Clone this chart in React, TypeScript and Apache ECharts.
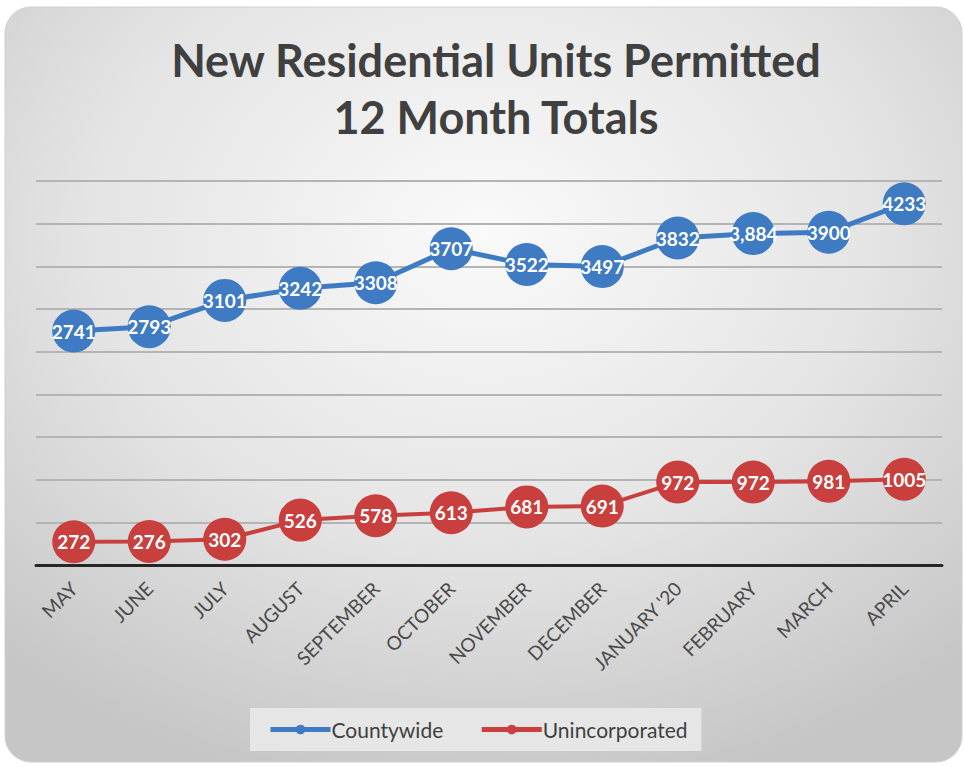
import React, { useEffect, useRef } from "react";
import * as echarts from "echarts";

const months = ["MAY", "JUNE", "JULY", "AUGUST", "SEPTEMBER", "OCTOBER", "NOVEMBER", "DECEMBER", "JANUARY '20", "FEBRUARY", "MARCH", "APRIL"];
const countywide = [2741, 2793, 3101, 3242, 3308, 3707, 3522, 3497, 3832, 3884, 3900, 4233];
const unincorporated = [272, 276, 302, 526, 578, 613, 681, 691, 972, 972, 981, 1005];
const commaLabelMonths = ["FEBRUARY"];
const titleLines = ["New Residential Units Permitted", "12 Month Totals"];

const BLUE = "#3F7BC3";
const RED = "#C83F3D";

export default function App() {
  const ref = useRef<HTMLDivElement>(null);
  useEffect(() => {
    if (!ref.current) return;
    const chart = echarts.init(ref.current, undefined, { renderer: "svg" });
    const labelFmt = (withComma: string[]) => (p: any) =>
      withComma.includes(p.name) ? Number(p.value).toLocaleString("en-US") : String(p.value);
    chart.setOption({
      animation: false,
      backgroundColor: "#ffffff",
      graphic: [
        {
          type: "rect",
          z: -10,
          silent: true,
          shape: { x: 5, y: 7, width: 957, height: 755, r: 26 },
          style: {
            fill: {
              type: "radial",
              x: 0.5,
              y: 0.3,
              r: 0.75,
              colorStops: [
                { offset: 0, color: "#fafafa" },
                { offset: 0.55, color: "#e4e4e4" },
                { offset: 1, color: "#c6c6c6" },
              ],
            },
            stroke: "#d0d0d0",
            lineWidth: 1,
          },
        },
      ],
      title: {
        text: titleLines.join("\n"),
        left: 491,
        textAlign: "center",
        top: 26,
        textStyle: {
          fontFamily: "Lato",
          fontWeight: "bold",
          fontSize: 45,
          lineHeight: 57,
          color: "#404040",
        },
      },
      legend: {
        left: 250,
        top: 708,
        backgroundColor: "#e6e6e6",
        padding: [11, 14, 11, 18],
        itemGap: 36,
        itemWidth: 60,
        itemHeight: 12,
        lineStyle: { width: 5 },
        textStyle: { fontFamily: "Lato", fontSize: 21, color: "#404040", padding: [0, 0, 0, -4] },
        data: ["Countywide", "Unincorporated"],
      },
      grid: { left: 36, right: 22, top: 181, bottom: 202 },
      xAxis: {
        type: "category",
        data: months,
        boundaryGap: true,
        axisLine: { lineStyle: { color: "#262626", width: 3 } },
        axisTick: { show: false },
        axisLabel: {
          rotate: 45,
          margin: 20,
          interval: 0,
          fontFamily: "Lato",
          fontSize: 19,
          color: "#4a4a4a",
        },
      },
      yAxis: {
        type: "value",
        min: 0,
        max: 4500,
        interval: 500,
        axisLabel: { show: false },
        axisLine: { show: false },
        axisTick: { show: false },
        splitLine: { lineStyle: { color: "#b4b4b4", width: 2 } },
      },
      series: [
        {
          name: "Countywide",
          type: "line",
          data: countywide,
          symbol: "circle",
          symbolSize: 43,
          itemStyle: { color: BLUE },
          lineStyle: { color: BLUE, width: 5 },
          label: {
            show: true,
            position: "inside",
            formatter: labelFmt(commaLabelMonths),
            color: "#ffffff",
            fontFamily: "Lato",
            fontWeight: "bold",
            fontSize: 19,
          },
        },
        {
          name: "Unincorporated",
          type: "line",
          data: unincorporated,
          symbol: "circle",
          symbolSize: 43,
          itemStyle: { color: RED },
          lineStyle: { color: RED, width: 4 },
          label: {
            show: true,
            position: "inside",
            formatter: labelFmt([]),
            color: "#ffffff",
            fontFamily: "Lato",
            fontWeight: "bold",
            fontSize: 19,
          },
        },
      ],
    });
    return () => chart.dispose();
  }, []);
  return (
    <div
      ref={ref}
      style={{ position: "fixed", left: 0, top: 0, width: 964, height: 767 }}
    />
  );
}
